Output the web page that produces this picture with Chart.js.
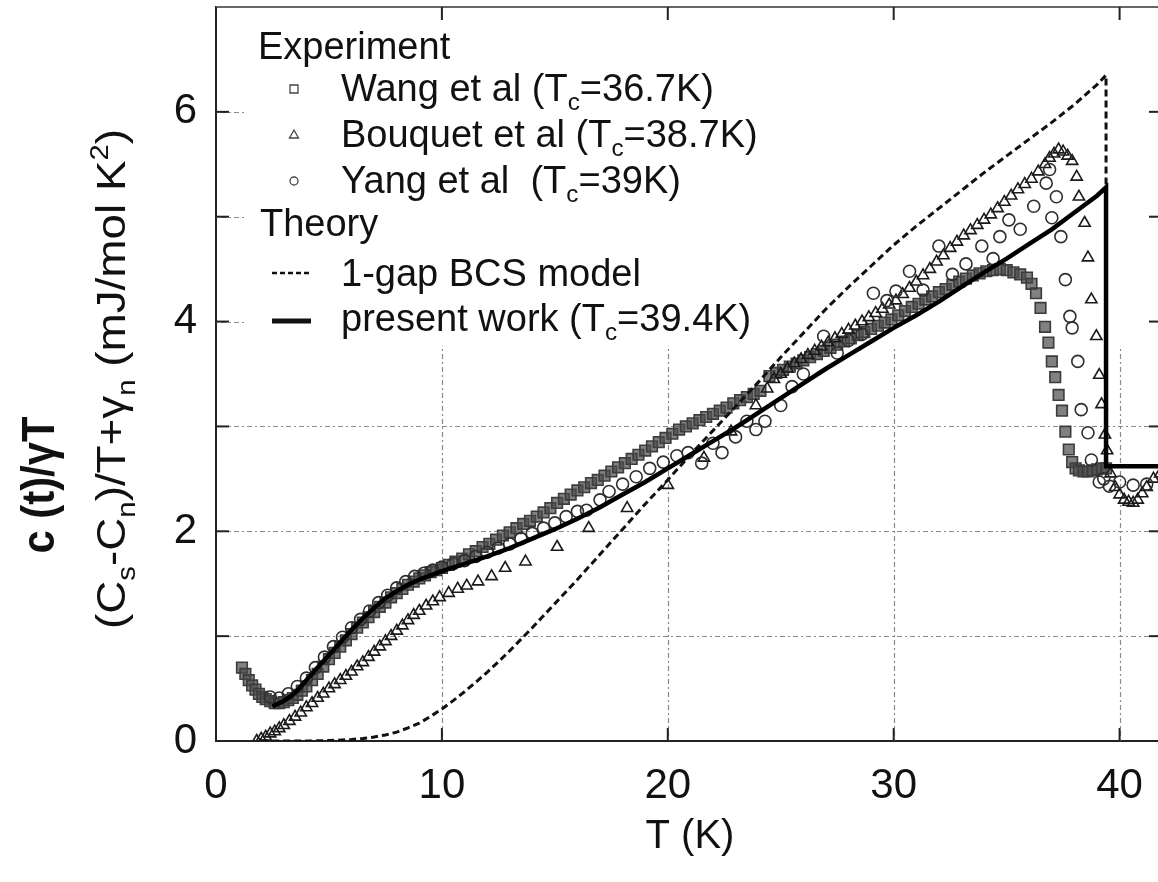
<!DOCTYPE html>
<html>
<head>
<meta charset="utf-8">
<script src="https://cdn.jsdelivr.net/npm/chart.js@4"></script>
<style>
  html, body { margin: 0; padding: 0; background: #fff; }
  #cp { display: block; }
</style>
</head>
<body>
<canvas id="cp" width="1158" height="882"></canvas>
<script>
// experiment: [T (K), (Cs-Cn)/T + gamma_n]
const wang = [
  [1.15,0.70],[1.3,0.64],[1.45,0.58],[1.6,0.53],[1.75,0.49],[1.9,0.45],[2.05,0.42],[2.2,0.40],[2.4,0.38],[2.6,0.36],
  [2.8,0.36],[3.0,0.37],[3.2,0.39],[3.4,0.41],[3.6,0.44],[3.8,0.48],[4.0,0.52],[4.25,0.58],[4.5,0.64],[4.75,0.71],
  [5.0,0.78],[5.25,0.84],[5.5,0.90],[5.75,0.96],[6.0,1.02],[6.25,1.08],[6.5,1.13],[6.75,1.18],[7.0,1.23],[7.25,1.28],
  [7.5,1.32],[7.75,1.37],[8.0,1.41],[8.25,1.45],[8.5,1.49],[8.75,1.52],[9.0,1.55],[9.25,1.58],[9.5,1.61],[9.75,1.63],
  [10.0,1.65],[10.3,1.68],[10.6,1.71],[10.9,1.74],[11.2,1.78],[11.5,1.81],[11.8,1.85],[12.1,1.88],[12.4,1.92],[12.7,1.96],
  [13.0,1.99],[13.3,2.03],[13.6,2.07],[13.9,2.10],[14.2,2.14],[14.5,2.18],[14.8,2.22],[15.1,2.27],[15.4,2.31],[15.7,2.35],
  [16.0,2.39],[16.3,2.42],[16.6,2.46],[16.9,2.49],[17.2,2.53],[17.5,2.57],[17.8,2.61],[18.1,2.65],[18.4,2.69],[18.7,2.73],
  [19.0,2.77],[19.3,2.81],[19.6,2.85],[19.9,2.89],[20.2,2.93],[20.5,2.97],[20.8,3.00],[21.1,3.03],[21.4,3.06],[21.7,3.09],
  [22.0,3.12],[22.3,3.15],[22.6,3.18],[22.9,3.22],[23.2,3.25],[23.5,3.28],[23.8,3.31],[24.1,3.34],[24.5,3.48],[24.8,3.51],
  [25.1,3.54],[25.4,3.57],[25.7,3.60],[26.0,3.63],[26.3,3.66],[26.6,3.69],[26.9,3.72],[27.2,3.75],[27.5,3.78],[27.8,3.81],
  [28.1,3.84],[28.4,3.87],[28.7,3.90],[29.0,3.93],[29.3,3.96],[29.6,3.99],[29.9,4.02],[30.2,4.06],[30.5,4.10],[30.8,4.14],
  [31.1,4.17],[31.4,4.21],[31.7,4.24],[32.0,4.28],[32.3,4.31],[32.6,4.35],[32.9,4.38],[33.2,4.41],[33.5,4.44],[33.8,4.46],
  [34.1,4.48],[34.4,4.49],[34.7,4.50],[35.0,4.49],[35.3,4.47],[35.6,4.45],[35.9,4.42],[36.1,4.36],[36.3,4.27],[36.5,4.13],
  [36.7,3.95],[36.85,3.80],[37.0,3.62],[37.15,3.47],[37.3,3.30],[37.45,3.15],[37.6,2.95],[37.75,2.78],[37.9,2.66],[38.05,2.60],
  [38.2,2.58],[38.4,2.57],[38.6,2.57],[38.8,2.58],[39.0,2.59],[39.2,2.60],[39.4,2.60]
];
const bouquet = [
  [1.8,0.0],[2.0,0.02],[2.2,0.04],[2.4,0.07],[2.6,0.09],[2.8,0.12],[3.0,0.15],[3.25,0.19],[3.5,0.23],[3.75,0.27],
  [4.0,0.32],[4.25,0.36],[4.5,0.41],[4.75,0.45],[5.0,0.50],[5.25,0.54],[5.5,0.58],[5.75,0.62],[6.0,0.66],[6.25,0.71],
  [6.5,0.75],[6.75,0.80],[7.0,0.85],[7.25,0.90],[7.5,0.95],[7.75,1.00],[8.0,1.05],[8.25,1.10],[8.5,1.15],[8.75,1.20],
  [9.0,1.24],[9.3,1.29],[9.6,1.33],[9.9,1.37],[10.3,1.41],[10.7,1.45],[11.1,1.48],[11.6,1.52],[12.2,1.57],[12.8,1.65],
  [13.7,1.71],[15.1,1.85],[16.5,2.03],[18.2,2.22],[20.0,2.44],[21.6,2.70],[22.8,2.95],[23.9,3.20],[24.4,3.36],[24.7,3.45],
  [25.0,3.50],[25.3,3.55],[25.6,3.60],[25.9,3.64],[26.2,3.68],[26.5,3.72],[26.8,3.76],[27.1,3.80],[27.4,3.84],[27.7,3.88],
  [28.0,3.92],[28.3,3.96],[28.6,4.00],[28.9,4.04],[29.2,4.08],[29.5,4.12],[29.8,4.16],[30.1,4.20],[30.4,4.26],[30.7,4.32],
  [31.0,4.38],[31.3,4.44],[31.6,4.50],[31.9,4.57],[32.2,4.63],[32.5,4.70],[32.8,4.76],[33.1,4.82],[33.4,4.87],[33.7,4.92],
  [34.0,4.97],[34.3,5.02],[34.6,5.08],[34.9,5.14],[35.2,5.20],[35.5,5.26],[35.8,5.31],[36.1,5.36],[36.4,5.43],[36.7,5.50],
  [36.9,5.56],[37.1,5.60],[37.3,5.64],[37.5,5.62],[37.7,5.58],[37.9,5.53],[38.1,5.38],[38.2,5.19],[38.45,4.94],[38.6,4.61],
  [38.75,4.21],[38.97,3.86],[39.1,3.49],[39.2,3.21],[39.35,2.92],[39.45,2.77],[39.6,2.55],[39.8,2.42],[40.0,2.35],[40.2,2.30],
  [40.4,2.28],[40.6,2.27],[40.8,2.30],[41.0,2.36],[41.2,2.42],[41.5,2.50],[41.8,2.55]
];
const yang = [
  [2.4,0.42],[2.8,0.41],[3.2,0.45],[3.6,0.52],[4.0,0.60],[4.4,0.70],[4.8,0.80],[5.2,0.90],[5.6,0.99],[6.0,1.08],
  [6.4,1.16],[6.8,1.24],[7.2,1.32],[7.6,1.39],[8.0,1.46],[8.4,1.52],[8.8,1.57],[9.2,1.60],[9.6,1.63],[10.0,1.66],
  [10.5,1.69],[11.0,1.72],[11.5,1.76],[12.0,1.80],[12.5,1.84],[13.0,1.88],[13.5,1.93],[14.0,1.98],[14.5,2.03],[15.0,2.08],
  [15.5,2.14],[16.0,2.19],[16.4,2.20],[17.0,2.30],[17.4,2.38],[18.0,2.45],[18.6,2.52],[19.2,2.60],[19.8,2.66],[20.4,2.72],
  [20.9,2.75],[21.5,2.65],[22.0,2.84],[22.4,2.75],[23.0,2.90],[23.5,3.05],[23.9,2.97],[24.3,3.05],[25.0,3.20],[25.5,3.38],
  [26.0,3.50],[26.9,3.86],[27.5,3.70],[28.0,3.82],[28.6,3.88],[29.1,4.27],[29.7,4.20],[30.1,4.29],[30.7,4.48],[31.3,4.30],
  [32.0,4.72],[32.6,4.45],[33.2,4.55],[33.9,4.72],[34.4,4.60],[34.7,4.81],[35.1,4.97],[35.6,4.88],[36.2,5.10],[36.75,5.32],
  [36.9,5.45],[37.0,4.99],[37.2,5.19],[37.4,4.81],[37.6,4.40],[37.8,4.05],[37.9,3.94],[38.15,3.62],[38.3,3.16],[38.6,2.94],
  [38.75,2.68],[39.1,2.47],[39.3,2.50],[39.55,2.43],[40.0,2.47],[40.6,2.44],[41.2,2.45]
];
// theory curves
const bcsModel = [
  [2,0],[4,0],[5,0.004],[6,0.014],[6.5,0.024],[7,0.038],[7.5,0.058],[8,0.085],[8.5,0.125],[9,0.17],
  [9.5,0.235],[10,0.305],[10.5,0.385],[11,0.47],[11.5,0.56],[12,0.655],[12.5,0.755],[13,0.86],[14,1.08],[15,1.31],
  [16,1.54],[17,1.78],[18,2.02],[19,2.26],[20,2.49],[21,2.73],[22,2.96],[23,3.19],[24,3.42],[25,3.66],
  [26,3.89],[27,4.12],[28,4.33],[29,4.53],[30,4.73],[31,4.91],[32,5.08],[33,5.25],[34,5.42],[35,5.58],
  [36,5.74],[37,5.90],[38,6.07],[39,6.26],[39.4,6.35],[39.4,2.62],[42,2.62]
];
const presentWork = [
  [2.5,0.33],[3,0.38],[3.5,0.46],[4,0.58],[4.5,0.70],[5,0.82],[5.5,0.94],[6,1.06],[6.5,1.17],[7,1.27],
  [7.5,1.36],[8,1.43],[8.5,1.49],[9,1.54],[9.5,1.58],[10,1.62],[11,1.69],[12,1.76],[13,1.84],[14,1.93],
  [15,2.02],[16,2.12],[17,2.23],[18,2.35],[19,2.47],[20,2.60],[21,2.73],[22,2.86],[23,2.99],[24,3.13],
  [25,3.27],[26,3.41],[27,3.55],[28,3.68],[29,3.81],[30,3.94],[31,4.06],[32,4.19],[33,4.33],[34,4.47],
  [35,4.60],[36,4.74],[37,4.88],[38,5.04],[39,5.20],[39.4,5.28],[39.4,2.62],[42,2.62]
];

const xTicks = [0, 10, 20, 30, 40];
const yTicks = [1, 2, 3, 4, 5, 6];
const xGrid = [10, 20, 30, 40];
const yGrid = [1, 2, 3];
const expNames = ['Wang et al (T', 'Bouquet et al (T', 'Yang et al  (T'];
const expTc = ['=36.7K)', '=38.7K)', '=39K)'];
const theoryNames = ['1-gap BCS model', 'present work (T'];
const theoryTc = ['', '=39.4K)'];

const FONT = "'Liberation Sans', Arial, Helvetica, sans-serif";
const pts = arr => arr.map(p => ({ x: p[0], y: p[1] }));

function runsWidth(ctx, parts, size, weight) {
  let w = 0;
  for (const [t, k] of parts) {
    ctx.font = `${weight || ''} ${k ? size * 0.64 : size}px ${FONT}`;
    w += ctx.measureText(t).width;
  }
  return w;
}
function drawRuns(ctx, parts, x, y, size, weight) {
  let cx = x;
  for (const [t, k] of parts) {
    const s = k ? size * 0.64 : size;
    ctx.font = `${weight || ''} ${s}px ${FONT}`;
    const dy = k === 1 ? size * 0.24 : (k === 2 ? -size * 0.42 : 0);
    ctx.fillText(t, cx, y + dy);
    cx += ctx.measureText(t).width;
  }
}

const decor = {
  id: 'decor',
  beforeDatasetsDraw(chart) {
    const { ctx, chartArea: a, scales: { x, y } } = chart;
    ctx.save();
    ctx.strokeStyle = '#8a8a8a';
    ctx.lineWidth = 1.2;
    ctx.setLineDash([2, 3, 5, 3]);
    const keyBottom = y.getPixelForValue(3.77);
    yGrid.forEach(v => {
      const yy = Math.round(y.getPixelForValue(v)) + 0.5;
      ctx.beginPath(); ctx.moveTo(a.left, yy); ctx.lineTo(a.right, yy); ctx.stroke();
    });
    xGrid.forEach(v => {
      const xx = Math.round(x.getPixelForValue(v)) + 0.5;
      ctx.beginPath(); ctx.moveTo(xx, a.bottom); ctx.lineTo(xx, keyBottom); ctx.stroke();
    });
    [4, 5, 6].forEach(v => {
      const yy = Math.round(y.getPixelForValue(v)) + 0.5;
      ctx.beginPath(); ctx.moveTo(a.left, yy); ctx.lineTo(a.left + 28, yy); ctx.stroke();
    });
    ctx.restore();
  },
  afterDraw(chart) {
    const { ctx, chartArea: a, scales: { x, y } } = chart;
    ctx.save();
    // frame top and tick marks
    ctx.strokeStyle = '#666';
    ctx.lineWidth = 2;
    ctx.beginPath(); ctx.moveTo(a.left, a.top); ctx.lineTo(a.right, a.top); ctx.stroke();
    ctx.strokeStyle = '#222';
    xTicks.forEach(v => {
      const xx = x.getPixelForValue(v);
      ctx.beginPath(); ctx.moveTo(xx, a.bottom); ctx.lineTo(xx, a.bottom - 13); ctx.stroke();
      ctx.beginPath(); ctx.moveTo(xx, a.top); ctx.lineTo(xx, a.top + 13); ctx.stroke();
    });
    yTicks.forEach(v => {
      const yy = y.getPixelForValue(v);
      ctx.beginPath(); ctx.moveTo(a.left, yy); ctx.lineTo(a.left + 13, yy); ctx.stroke();
      ctx.beginPath(); ctx.moveTo(a.right, yy); ctx.lineTo(a.right - 9, yy); ctx.stroke();
    });

    ctx.fillStyle = '#111';
    ctx.textBaseline = 'alphabetic';
    ctx.textAlign = 'left';

    // legend key
    const ls = 38;
    drawRuns(ctx, [['Experiment', 0]], 258, 59, ls);
    const rowY = [101, 147, 193];
    const marks = ['rect', 'triangle', 'circle'];
    rowY.forEach((ry, i) => {
      drawRuns(ctx, [[expNames[i], 0], ['c', 1], [expTc[i], 0]], 341, ry, ls);
      const mx = 294, my = ry - 12;
      ctx.strokeStyle = '#444';
      ctx.lineWidth = 1.3;
      ctx.setLineDash([]);
      ctx.beginPath();
      if (marks[i] === 'rect') ctx.rect(mx - 4, my - 4, 8, 8);
      else if (marks[i] === 'triangle') { ctx.moveTo(mx, my - 5); ctx.lineTo(mx + 4.5, my + 3); ctx.lineTo(mx - 4.5, my + 3); ctx.closePath(); }
      else ctx.arc(mx, my, 4, 0, Math.PI * 2);
      ctx.stroke();
    });
    drawRuns(ctx, [['Theory', 0]], 260, 236, ls);
    drawRuns(ctx, [[theoryNames[0], 0]], 341, 286, ls);
    drawRuns(ctx, [[theoryNames[1], 0], ['c', 1], [theoryTc[1], 0]], 341, 331, ls);
    ctx.strokeStyle = '#111';
    ctx.lineWidth = 2.6;
    ctx.setLineDash([5, 3]);
    ctx.beginPath(); ctx.moveTo(272, 273); ctx.lineTo(311, 273); ctx.stroke();
    ctx.setLineDash([]);
    ctx.lineWidth = 5;
    ctx.beginPath(); ctx.moveTo(272, 321); ctx.lineTo(311, 321); ctx.stroke();

    // x title
    ctx.font = `40px ${FONT}`;
    ctx.textAlign = 'center';
    ctx.fillText('T (K)', 690, 848);
    ctx.textAlign = 'left';

    // y title
    const yTitle = [['(C', 0], ['s', 1], ['-C', 0], ['n', 1], [')/T+\u03b3', 0], ['n', 1], [' (mJ/mol K', 0], ['2', 2], [')', 0]];
    const w = runsWidth(ctx, yTitle, 40);
    ctx.save();
    ctx.translate(125, 379);
    ctx.rotate(-Math.PI / 2);
    ctx.scale(500 / w, 1);
    drawRuns(ctx, yTitle, -w / 2, 0, 40);
    ctx.restore();

    // outer bold label
    const side = [['c (t)/\u03b3T', 0]];
    const w2 = runsWidth(ctx, side, 46, 'bold');
    ctx.save();
    ctx.translate(54, 485);
    ctx.rotate(-Math.PI / 2);
    ctx.scale(137 / w2, 1);
    drawRuns(ctx, side, -w2 / 2, 0, 46, 'bold');
    ctx.restore();

    ctx.restore();
  }
};

new Chart(document.getElementById('cp'), {
  type: 'scatter',
  data: {
    datasets: [
      { label: 'present work', data: pts(presentWork), showLine: true, borderColor: '#000', borderWidth: 4.5,
        pointRadius: 0, tension: 0, order: 0 },
      { label: '1-gap BCS model', data: pts(bcsModel), showLine: true, borderColor: '#111', borderWidth: 3,
        borderDash: [7, 4], pointRadius: 0, tension: 0, order: 1 },
      { label: 'Yang et al', data: pts(yang), pointStyle: 'circle', pointRadius: 6, borderColor: '#2e2e2e',
        borderWidth: 1.6, backgroundColor: 'rgba(255,255,255,0)', order: 2 },
      { label: 'Bouquet et al', data: pts(bouquet), pointStyle: 'triangle', pointRadius: 6.5, borderColor: '#1a1a1a',
        borderWidth: 1.6, backgroundColor: 'rgba(255,255,255,0)', order: 3 },
      { label: 'Wang et al', data: pts(wang), pointStyle: 'rect', pointRadius: 7.5, borderColor: '#3c3c3c',
        borderWidth: 1.6, backgroundColor: 'rgba(75,75,75,0.7)', order: 4 }
    ]
  },
  options: {
    responsive: false,
    animation: false,
    devicePixelRatio: 1,
    layout: { autoPadding: false, padding: { top: 7, right: 0, bottom: 0, left: 0 } },
    plugins: { legend: { display: false }, tooltip: { enabled: false } },
    scales: {
      x: {
        type: 'linear', min: 0, max: 41.7,
        afterFit: s => { s.height = 141; s.paddingLeft = 0; s.paddingRight = 0; s.paddingTop = 0; s.paddingBottom = 0; },
        ticks: { stepSize: 10, includeBounds: false, padding: 20, maxRotation: 0, autoSkip: false,
          color: '#111', font: { family: FONT, size: 42 } },
        grid: { display: false, drawTicks: false },
        border: { display: true, color: '#222', width: 2 }
      },
      y: {
        type: 'linear', min: 0, max: 7,
        afterFit: s => { s.width = 216; s.paddingLeft = 0; s.paddingRight = 0; s.paddingTop = 0; s.paddingBottom = 0; },
        ticks: { stepSize: 1, includeBounds: false, padding: 19, autoSkip: false,
          callback: v => (v % 2 === 0 ? v : null), color: '#111', font: { family: FONT, size: 42 } },
        grid: { display: false, drawTicks: false },
        border: { display: true, color: '#222', width: 2 }
      }
    }
  },
  plugins: [decor]
});
</script>
</body>
</html>
